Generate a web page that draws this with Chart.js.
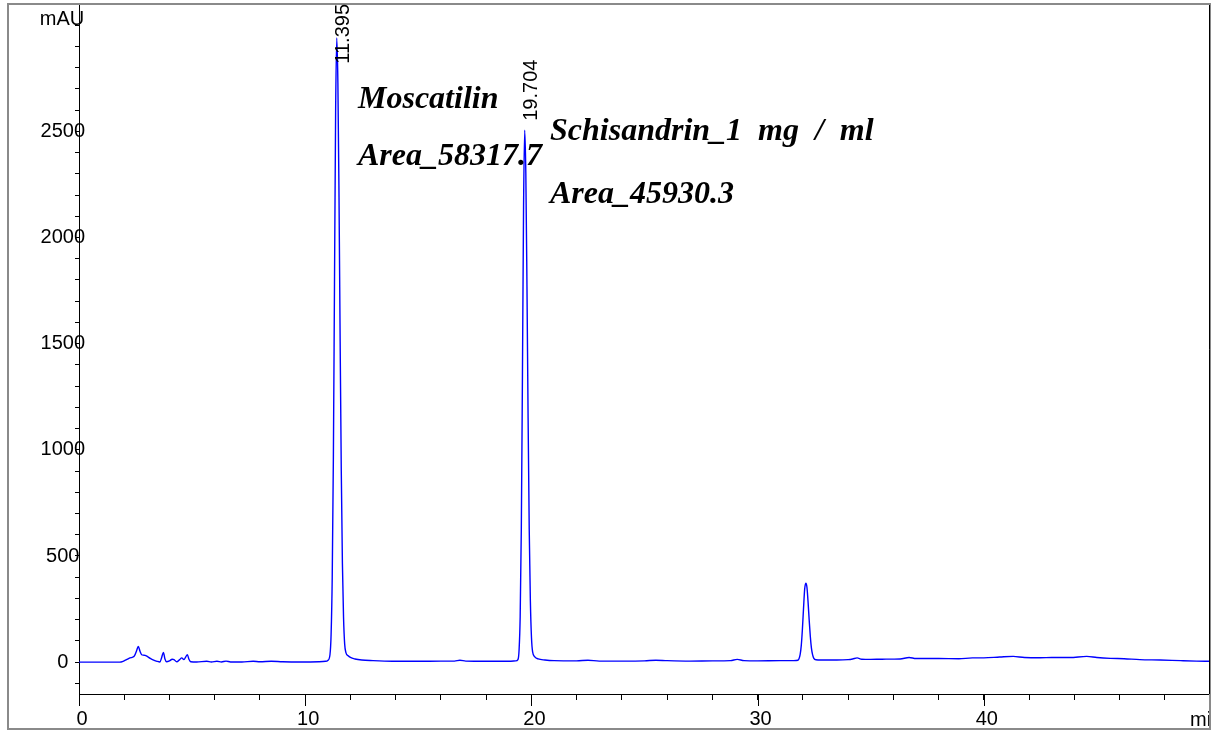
<!DOCTYPE html>
<html><head><meta charset="utf-8">
<script src="https://cdn.jsdelivr.net/npm/chart.js@4.4.0/dist/chart.umd.min.js"></script>
<style>html,body{margin:0;padding:0;background:#fff;}canvas{display:block;}</style>
</head><body>
<canvas id="c" width="1220" height="731"></canvas>
<script>
// Retention time (min)
const times = [0,1.0,1.8,1.95,2.1,2.25,2.35,2.45,2.55,2.62,2.7,2.77,2.85,2.92,3.0,3.15,3.3,3.45,3.58,3.65,3.73,3.8,3.87,4.0,4.12,4.2,4.32,4.45,4.54,4.64,4.72,4.79,4.86,4.94,5.2,5.65,5.85,6.1,6.3,6.5,6.7,7.2,7.7,8.0,8.5,9.0,9.77,10.6,10.9,
 11.0,11.095,11.145,11.195,11.245,11.295,11.345,11.395,11.445,11.495,11.545,11.595,11.645,11.695,11.745,11.8,11.9,12.0,12.2,12.5,13.0,13.5,14.2,15.0,16.0,16.6,16.84,17.1,18.0,19.0,19.3,
 19.404,19.454,19.504,19.554,19.604,19.654,19.704,19.754,19.804,19.854,19.904,19.954,20.004,20.054,20.15,20.3,20.6,21.0,22.0,22.5,23.0,24.0,25.0,25.5,26.0,27.0,28.0,28.8,29.1,29.4,30.0,31.0,31.6,
 31.78,31.83,31.88,31.93,31.98,32.03,32.08,32.13,32.18,32.23,32.28,32.33,32.38,32.43,32.48,32.58,32.8,33.5,34.0,34.2,34.4,34.6,35.0,35.5,36.3,36.7,37.0,38.0,38.9,39.5,40.0,40.7,41.3,41.8,42.5,43.0,43.8,44.55,45.0,45.6,46.2,46.9,47.8,48.7,49.4,50.0];
// Absorbance (mAU)
const signal = [0,0,0,4,12,20,23,30,55,74,50,35,33,32,28,18,10,4,1,20,46,15,2,6,14,12,2,12,20,12,25,35,14,2,1,4,1,4,1,5,1,1,4,2,4,2,1,2,4,
 8,35,130,400,955,1780,2590,2940,2730,2190,1510,900,465,210,85,45,30,22,15,10,7,5,4,4,5,5,9,5,4,4,6,
 12,55,215,625,1350,2150,2505,2300,1770,1150,625,290,115,48,25,15,10,7,6,9,5,5,6,9,7,5,6,7,13,7,6,7,7,
 9,16,35,78,154,253,343,372,354,285,199,122,66,35,19,11,10,10,12,15,20,14,13,14,15,22,17,17,16,20,20,24,27,22,21,22,22,27,22,18,16,12,10,7,5,4];

const peakTimes = [11.395, 19.704];
const peakLabels = ['11.395', '19.704'];
const xLabelValues = [0, 10, 20, 30, 40];
const yLabelValues = [0, 500, 1000, 1500, 2000, 2500];
const yUnit = 'mAU';
const xUnit = 'min';
const noteTexts = ['Moscatilin', 'Area_58317.7', 'Schisandrin_1  mg  /  ml', 'Area_45930.3'];

const SANS = '"Liberation Sans", Arial, Helvetica, sans-serif';
const SERIF = '"Liberation Serif", "Times New Roman", serif';

// let tick labels overlap the axis line (as in the original) instead of being clipped to the scale box
Chart.LinearScale.prototype._computeLabelArea = function () { return undefined; };

const overlay = {
  id: 'overlay',
  afterDraw(chart) {
    const {ctx, chartArea: a, scales: {x, y}} = chart;
    ctx.save();
    // outer frame
    ctx.strokeStyle = '#8a8a8a';
    ctx.lineWidth = 2;
    ctx.strokeRect(8, 4, 1202, 725);
    // right plot edge
    ctx.strokeStyle = '#000';
    ctx.lineWidth = 1;
    ctx.beginPath();
    ctx.moveTo(a.right - 0.5, a.top);
    ctx.lineTo(a.right - 0.5, a.bottom);
    ctx.stroke();
    // longer major x ticks
    ctx.beginPath();
    xLabelValues.forEach(v => {
      const px = Math.round(x.getPixelForValue(v)) + 0.5;
      ctx.moveTo(px, a.bottom);
      ctx.lineTo(px, a.bottom + 12);
    });
    ctx.stroke();
    // axis unit labels
    ctx.fillStyle = '#000';
    ctx.font = '20px ' + SANS;
    ctx.textAlign = 'center';
    ctx.textBaseline = 'alphabetic';
    ctx.fillText(yUnit, 62, 25);
    ctx.save();
    ctx.beginPath();
    ctx.rect(0, 0, a.right - 1, 731);
    ctx.clip();
    ctx.textAlign = 'left';
    ctx.fillText(xUnit, 1190, 726);
    ctx.restore();
    // retention time labels
    peakTimes.forEach((t, i) => {
      const px = x.getPixelForValue(t);
      const apex = y.getPixelForValue(signal[times.indexOf(t)]);
      const w = ctx.measureText(peakLabels[i]).width;
      const start = Math.max(apex - 9.5, a.top + w - 1);
      ctx.save();
      ctx.translate(px + 12, start);
      ctx.rotate(-Math.PI / 2);
      ctx.textAlign = 'left';
      ctx.textBaseline = 'alphabetic';
      ctx.fillText(peakLabels[i], 0, 0);
      ctx.restore();
    });
    // annotations
    ctx.font = 'italic bold 32px ' + SERIF;
    ctx.textAlign = 'left';
    ctx.fillText(noteTexts[0], 358, 108);
    ctx.fillText(noteTexts[1], 358, 165);
    ctx.fillText(noteTexts[2], 550, 140);
    ctx.fillText(noteTexts[3], 550, 203);
    ctx.restore();
  }
};

new Chart(document.getElementById('c'), {
  type: 'line',
  data: {
    datasets: [{
      data: times.map((t, i) => ({x: t, y: signal[i]})),
      borderColor: '#0000ff',
      borderWidth: 1.4,
      pointRadius: 0,
      fill: false,
      cubicInterpolationMode: 'monotone'
    }]
  },
  options: {
    responsive: false,
    animation: false,
    devicePixelRatio: 1,
    layout: {padding: {top: 5, right: 10, left: 0, bottom: 0}},
    plugins: {legend: {display: false}, tooltip: {enabled: false}},
    scales: {
      x: {
        type: 'linear', min: 0, max: 50,
        afterFit(s) { s.height = 37; },
        grid: {drawOnChartArea: false, drawTicks: true, tickLength: 6, color: '#000', lineWidth: 1},
        border: {display: true, color: '#000', width: 1},
        ticks: {
          stepSize: 2, autoSkip: false, maxRotation: 0, includeBounds: false,
          color: '#000', font: {family: SANS, size: 20}, padding: 7, labelOffset: 3,
          callback: v => xLabelValues.includes(v) ? String(v) : ''
        }
      },
      y: {
        type: 'linear', min: -150, max: 3095,
        afterFit(s) { s.width = 79; },
        grid: {drawOnChartArea: false, drawTicks: true, tickLength: 4, color: '#000', lineWidth: 1},
        border: {display: true, color: '#000', width: 1},
        ticks: {
          stepSize: 100, autoSkip: false, includeBounds: false, crossAlign: 'center', padding: -10,
          color: '#000', font: {family: SANS, size: 20},
          callback: v => yLabelValues.includes(v) ? String(v) : ''
        }
      }
    }
  },
  plugins: [overlay]
});
</script>
</body></html>
